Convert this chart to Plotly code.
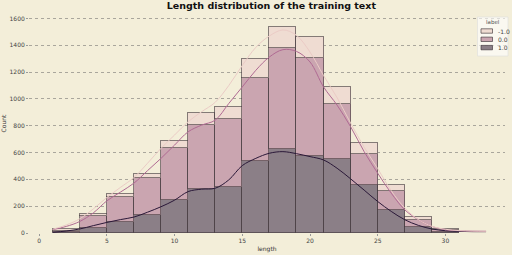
import plotly.graph_objects as go

# ---- data ----
bin_left = [1, 3, 5, 7, 9, 11, 13, 15, 17, 19, 21, 23, 25, 27, 29]
bin_width = 2
labels = ["-1.0", "0.0", "1.0"]

# per-label counts (stacked: 1.0 at bottom, 0.0 middle, -1.0 top)
count_1 = [7, 37, 82, 131, 245, 327, 344, 537, 627, 577, 552, 357, 171, 42, 10]
count_0 = [10, 87, 186, 278, 387, 478, 506, 623, 756, 731, 414, 230, 143, 52, 9]
count_neg1 = [13, 17, 22, 30, 54, 87, 87, 141, 156, 157, 127, 82, 43, 25, 11]

# stacked KDE curves as drawn
kde_x = list(range(1, 34))
kde_low = [5, 15, 30, 55, 79, 100, 119, 155, 196, 245, 309, 327, 334, 396, 503, 557,
           595, 607, 592, 570, 545, 483, 404, 320, 235, 161, 99, 57, 30, 17, 12, 10, 10]
kde_mid = [25, 49, 86, 150, 240, 305, 372, 465, 557, 656, 755, 805, 842, 966, 1090, 1214,
           1313, 1368, 1355, 1276, 1090, 954, 793, 607, 446, 297, 173, 99, 49, 25, 17, 14, 13]
kde_top = [28, 60, 106, 180, 265, 340, 414, 520, 632, 731, 830, 905, 975, 1100, 1250, 1385,
           1470, 1515, 1475, 1350, 1175, 1010, 820, 640, 480, 315, 186, 100, 50, 28, 18, 14, 13]

x_ticks = [0, 5, 10, 15, 20, 25, 30]
y_ticks = [0, 200, 400, 600, 800, 1000, 1200, 1400, 1600]

bar_colors = {"-1.0": "#efdcd2", "0.0": "#caa5b0", "1.0": "#8b7f87"}
line_colors = {"-1.0": "#ebcbc6", "0.0": "#b06a93", "1.0": "#2a1838"}
edge = "rgba(70,60,65,0.65)"

centers = [b + bin_width / 2 for b in bin_left]
series = {"1.0": count_1, "0.0": count_0, "-1.0": count_neg1}

W, H = 512, 255
ML, MR, MT, MB = 29, 7, 14, 22
PW, PH = W - ML - MR, H - MT - MB


def px(xp):
    return (xp - ML) / PW


def py(yp):
    return (H - MB - yp) / PH


fig = go.Figure()
for lab in ["1.0", "0.0", "-1.0"]:
    fig.add_trace(go.Bar(
        x=centers, y=series[lab], width=bin_width, name=lab,
        marker=dict(color=bar_colors[lab], line=dict(color=edge, width=1)),
        showlegend=False,
    ))

for lab, vals in [("1.0", kde_low), ("0.0", kde_mid), ("-1.0", kde_top)]:
    fig.add_trace(go.Scatter(
        x=kde_x, y=vals, mode="lines", line=dict(color=line_colors[lab], width=1, shape="spline"),
        showlegend=False, hoverinfo="skip",
    ))

# custom compact legend (matplotlib style)
shapes = [dict(type="rect", xref="paper", yref="paper",
               x0=px(477.5), x1=px(508), y0=py(56), y1=py(17),
               fillcolor="rgba(255,255,255,0.6)", line=dict(color="#dedede", width=0.6),
               layer="above")]
annotations = [dict(text="label", xref="paper", yref="paper", x=px(492.5), y=py(22.5),
                    xanchor="center", yanchor="middle", showarrow=False,
                    font=dict(size=5.5, color="#555"))]
for i, lab in enumerate(labels):
    yc = 31 + i * 8.3
    shapes.append(dict(type="rect", xref="paper", yref="paper",
                       x0=px(481), x1=px(492.5), y0=py(yc + 2.2), y1=py(yc - 2.2),
                       fillcolor=bar_colors[lab], line=dict(color="rgba(60,50,55,0.8)", width=0.8),
                       layer="above"))
    annotations.append(dict(text=lab, xref="paper", yref="paper", x=px(496), y=py(yc),
                            xanchor="left", yanchor="middle", showarrow=False,
                            font=dict(size=6, color="#444")))

bg = "#f3eed9"
fig.update_layout(
    width=W, height=H,
    margin=dict(l=ML, r=MR, t=MT, b=MB),
    paper_bgcolor=bg, plot_bgcolor=bg,
    barmode="stack", bargap=0,
    showlegend=False,
    shapes=shapes, annotations=annotations,
    font=dict(family="DejaVu Sans", size=6, color="#333333"),
    title=dict(text="<b>Length distribution of the training text</b>",
               x=0.53, xanchor="center", y=0.99, yanchor="top",
               font=dict(size=9.5, color="#111111", family="DejaVu Sans")),
    xaxis=dict(range=[-0.75, 34.4], tickvals=x_ticks, showgrid=False, zeroline=False,
               showline=False, ticks="outside", ticklen=2, tickcolor="#999",
               automargin=False,
               tickfont=dict(size=6, color="#444"),
               title=dict(text="length", font=dict(size=6, color="#333"), standoff=3)),
    yaxis=dict(range=[0, 1634], tickvals=y_ticks, showgrid=True, gridcolor="#a9a69c",
               griddash="dot", gridwidth=0.5, zeroline=False, showline=False,
               ticks="outside", ticklen=2, tickcolor="#999",
               automargin=False,
               tickfont=dict(size=6, color="#444"),
               title=dict(text="Count", font=dict(size=6, color="#333"), standoff=5)),
)

fig.write_html("out.html")
